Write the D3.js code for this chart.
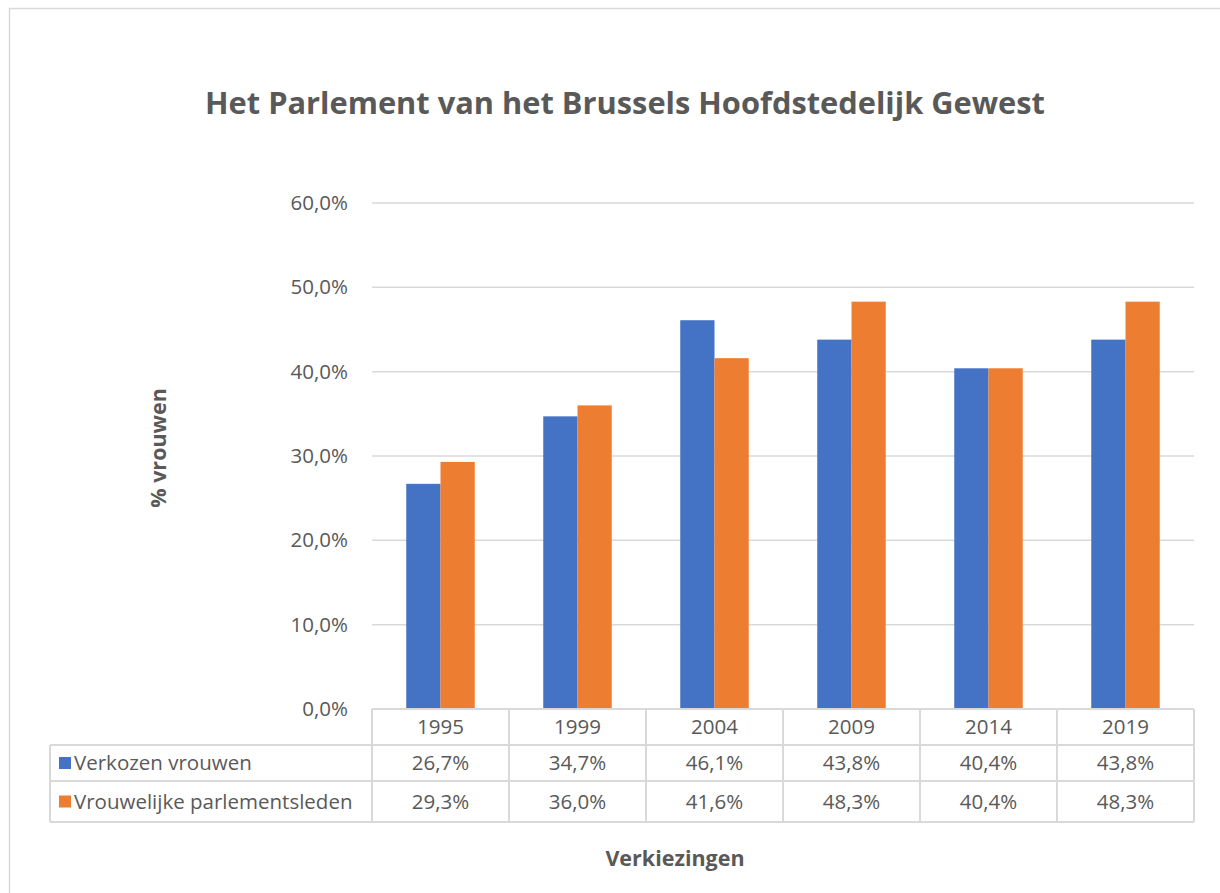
<!DOCTYPE html>
<html>
<head>
<meta charset="utf-8">
<script src="https://cdn.jsdelivr.net/npm/d3@7"></script>
<style>
  body { margin: 0; background: #fff; }
  svg { display: block; font-family: "Open Sans", "Noto Sans", sans-serif; }
</style>
</head>
<body>
<div id="chart"></div>
<script>
const years = ['1995', '1999', '2004', '2009', '2014', '2019']
const seriesNames = ['Verkozen vrouwen', 'Vrouwelijke parlementsleden']
const verkozen = [26.7, 34.7, 46.1, 43.8, 40.4, 43.8]
const parlementsleden = [29.3, 36.0, 41.6, 48.3, 40.4, 48.3]
const yTicks = [0, 10, 20, 30, 40, 50, 60]
const colors = ['#4472C4', '#ED7D31']

const width = 1220, height = 893
const plot = {left: 372, right: 1194, top: 203, bottom: 709}
const rowH = 36
const fs = 20.5

const svg = d3.select('#chart')
    .append('svg')
        .attr('width', width)
        .attr('height', height)

const grey = '#595959'
const line = '#d9d9d9'
const fmt = (v) => v.toFixed(1).replace('.', ',') + '%'

// outer chart border
svg.append('rect')
    .attr('x', 9.5).attr('y', 8.5)
    .attr('width', 1230).attr('height', 900)
    .attr('fill', 'none')
    .attr('stroke', line)
    .attr('stroke-width', 1.5)

svg.append('text')
    .attr('x', 625).attr('y', 114)
    .attr('text-anchor', 'middle')
    .attr('font-size', 30.8)
    .attr('font-weight', 'bold')
    .attr('fill', grey)
    .text('Het Parlement van het Brussels Hoofdstedelijk Gewest')

const x = d3.scaleBand()
    .domain(years)
    .range([plot.left, plot.right])

const y = d3.scaleLinear()
    .domain([0, 60])
    .range([plot.bottom, plot.top])

// gridlines
svg.append('g')
    .selectAll('line')
    .data(yTicks.slice(1))
    .join('line')
        .attr('x1', plot.left).attr('x2', plot.right)
        .attr('y1', (d) => y(d)).attr('y2', (d) => y(d))
        .attr('stroke', line)
        .attr('stroke-width', 1.5)

// y axis labels
const yAxis = d3.axisLeft(y)
    .tickValues(yTicks)
    .tickSize(0)
    .tickPadding(24)
    .tickFormat((d) => fmt(d))

svg.append('g')
    .attr('transform', 'translate(' + plot.left + ',0)')
    .call(yAxis)
    .call((g) => g.select('.domain').remove())
    .selectAll('text')
        .attr('font-size', fs)
        .attr('font-family', '"Open Sans", sans-serif')
        .attr('fill', grey)

// bars (gap width 100%)
const sub = d3.scaleBand()
    .domain([0, 1])
    .range([0, x.bandwidth()])
    .paddingOuter(1)
    .paddingInner(0)

const allSeries = [verkozen, parlementsleden]
allSeries.forEach((values, s) => {
    svg.append('g')
        .selectAll('rect')
        .data(values)
        .join('rect')
            .attr('x', (d, i) => x(years[i]) + sub(s))
            .attr('width', sub.bandwidth())
            .attr('y', (d) => y(d))
            .attr('height', (d) => y(0) - y(d))
            .attr('fill', colors[s])
})

// data table
const table = svg.append('g')
const tableLeft = 50
const rows = [plot.bottom, plot.bottom + rowH, plot.bottom + rowH * 2, plot.bottom + rowH * 3 + 5]

const tline = (x1, y1, x2, y2) => table.append('line')
    .attr('x1', x1).attr('y1', y1).attr('x2', x2).attr('y2', y2)
    .attr('stroke', line).attr('stroke-width', 2)

tline(plot.left, rows[0], plot.right, rows[0])
tline(tableLeft, rows[1], plot.right, rows[1])
tline(tableLeft, rows[2], plot.right, rows[2])
tline(tableLeft, rows[3], plot.right, rows[3])
tline(tableLeft, rows[1], tableLeft, rows[3])
years.forEach((yr) => tline(x(yr), rows[0], x(yr), rows[3]))
tline(plot.right, rows[0], plot.right, rows[3])

table.selectAll('text.year')
    .data(years)
    .join('text')
        .attr('class', 'year')
        .attr('x', (d) => x(d) + x.bandwidth() / 2)
        .attr('y', (rows[0] + rows[1]) / 2 + 7)
        .attr('text-anchor', 'middle')
        .attr('font-size', fs)
        .attr('fill', grey)
        .text((d) => d)

allSeries.forEach((values, s) => {
    const cy = (rows[s + 1] + rows[s + 2]) / 2
    table.append('rect')
        .attr('x', 59).attr('y', cy - 6)
        .attr('width', 12).attr('height', 12)
        .attr('fill', colors[s])
    table.append('text')
        .attr('x', 74).attr('y', cy + 7)
        .attr('font-size', fs)
        .attr('fill', grey)
        .text(seriesNames[s])
    table.selectAll('text.v' + s)
        .data(values)
        .join('text')
            .attr('class', 'v' + s)
            .attr('x', (d, i) => x(years[i]) + x.bandwidth() / 2)
            .attr('y', cy + 7)
            .attr('text-anchor', 'middle')
            .attr('font-size', fs)
            .attr('fill', grey)
            .text((d) => fmt(d))
})

// axis titles
svg.append('text')
    .attr('transform', 'translate(166,448) rotate(-90)')
    .attr('text-anchor', 'middle')
    .attr('font-size', 21.5)
    .attr('font-weight', 'bold')
    .attr('fill', grey)
    .text('% vrouwen')

svg.append('text')
    .attr('x', 675).attr('y', 866)
    .attr('text-anchor', 'middle')
    .attr('font-size', 21.5)
    .attr('font-weight', 'bold')
    .attr('fill', grey)
    .text('Verkiezingen')
</script>
</body>
</html>
